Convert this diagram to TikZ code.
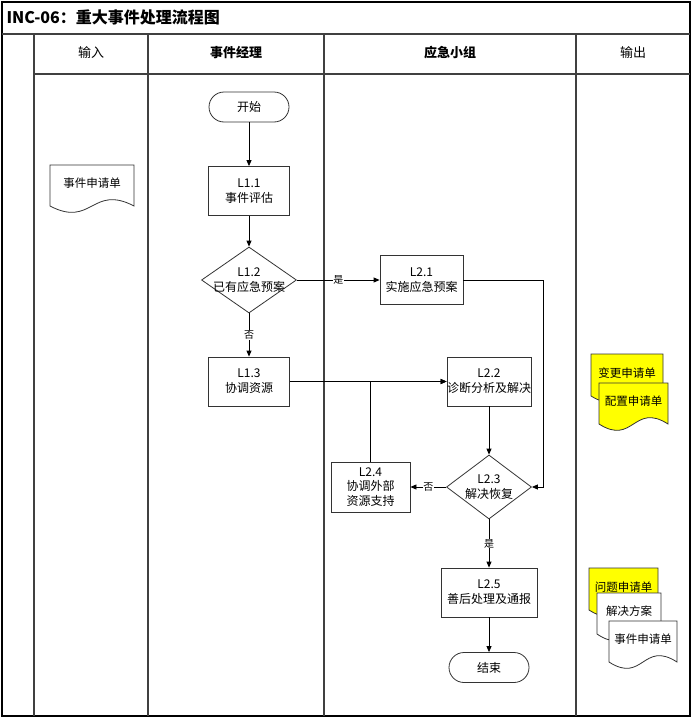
\documentclass[tikz,border=0pt]{standalone}
\usepackage{fontspec}
\setmainfont{Noto Sans CJK SC}
\usetikzlibrary{shapes.geometric,arrows.meta,calc}
\definecolor{lanegray}{HTML}{404040}
\definecolor{shapeline}{HTML}{333333}
\definecolor{docyellow}{HTML}{FFFF00}

% document symbol: name, centre, half width, half height, fill, text
\newcommand{\docshape}[6]{%
  \coordinate (#1) at (#2);
  \filldraw[fill=#5,draw=shapeline,line width=0.8pt]
    ($(#1)+(-#3,-#4)$) -- ($(#1)+(#3,-#4)$) -- ($(#1)+(#3,#4)$)
    .. controls +(-#3,-22) and +(#3,22) .. ($(#1)+(-#3,#4)$) -- cycle;
  \node[doctext] (#1-text) at ($(#1)+(0,-2)$) {#6};
}

\begin{document}
\begin{tikzpicture}[x=1pt,y=-1pt,
    lane/.style={draw=lanegray,line width=1.5pt},
    stepbox/.style={draw=shapeline,line width=0.8pt,fill=white,rectangle,
      align=center,font=\fontsize{12}{15}\selectfont,inner sep=0pt},
    terminal/.style={stepbox,rounded corners=15pt,minimum width=80pt,minimum height=30pt},
    decision/.style={draw=shapeline,line width=0.8pt,fill=white,diamond,inner sep=0pt,
      label={[align=center,font=\fontsize{12}{15}\selectfont]center:#1}},
    doctext/.style={font=\fontsize{11.5}{14}\selectfont,inner sep=0pt},
    header/.style={font=\fontsize{13}{15}\selectfont},
    lbl/.style={font=\fontsize{10}{12}\selectfont,fill=white,inner sep=0.5pt},
    arr/.style={draw=black,line width=0.8pt,-{Triangle[length=6pt,width=5pt]}}]
  \useasboundingbox (0,0) rectangle (693,720);

  % frame and lanes
  \draw[line width=2pt] (1.5,1.5) rectangle (690,716);
  \draw[lane] (1.5,34) -- (690,34);
  \draw[lane] (34,74) -- (690,74);
  \foreach \x in {34,148,324,576}
    \draw[lane] (\x,34) -- (\x,716);

  \node[anchor=west,font=\fontsize{16}{18}\selectfont\bfseries] (title) at (3,17) {INC-06：重大事件处理流程图};
  \node[header] (h-in) at (91,53) {输入};
  \node[header,font=\fontsize{13}{15}\selectfont\bfseries] (h-mgr) at (236,53) {事件经理};
  \node[header,font=\fontsize{13}{15}\selectfont\bfseries] (h-team) at (450,53) {应急小组};
  \node[header] (h-out) at (633,53) {输出};

  % flow
  \node[terminal] (start) at (249,107) {开始};
  \node[stepbox,minimum width=81pt,minimum height=49pt] (l11) at (249,191) {L1.1\\事件评估};
  \node[decision={L1.2\\已有应急预案},minimum width=95pt,minimum height=66pt] (l12) at (249,280) {};
  \node[stepbox,minimum width=81pt,minimum height=49pt] (l13) at (249,381.5) {L1.3\\协调资源};
  \node[stepbox,minimum width=83pt,minimum height=49pt] (l21) at (421.5,280) {L2.1\\实施应急预案};
  \node[stepbox,minimum width=84pt,minimum height=49pt] (l22) at (489,381.5) {L2.2\\诊断分析及解决};
  \node[decision={L2.3\\解决恢复},minimum width=85pt,minimum height=64pt] (l23) at (489,487) {};
  \node[stepbox,minimum width=79pt,minimum height=50pt,font=\fontsize{12}{14.5}\selectfont] (l24) at (370.5,487) {L2.4\\协调外部\\资源支持};
  \node[stepbox,minimum width=96pt,minimum height=49pt] (l25) at (489,592.5) {L2.5\\善后处理及通报};
  \node[terminal] (end) at (489,667.5) {结束};
  \coordinate (bend) at (543,487);

  \draw[arr] (start) -- (l11);
  \draw[arr] (l11) -- (l12);
  \draw[arr] (l12) -- node[lbl] {否} (l13);
  \draw[arr] (l12) -- node[lbl] {是} (l21);
  \draw[arr] (l21.east) -| (bend) -- (l23.east);
  \draw[arr] (l13) -- (l22);
  \draw[arr] (l24.north) |- (l22.west);
  \draw[arr] (l22) -- (l23);
  \draw[arr] (l23) -- node[lbl] {否} (l24);
  \draw[arr] (l23) -- node[lbl] {是} (l25);
  \draw[arr] (l25) -- (end);

  % documents
  \docshape{docin}{92,185.5}{42}{20.5}{white}{事件申请单}
  \docshape{docchg}{627,375}{36}{21}{docyellow}{变更申请单}
  \docshape{doccfg}{633.5,403.5}{34.5}{20.5}{docyellow}{配置申请单}
  \docshape{docprb}{623.5,589}{34.5}{21}{docyellow}{问题申请单}
  \docshape{docsol}{629,613.5}{32}{20.5}{white}{解决方案}
  \docshape{docout}{643,641.5}{34}{20.5}{white}{事件申请单}
\end{tikzpicture}
\end{document}
